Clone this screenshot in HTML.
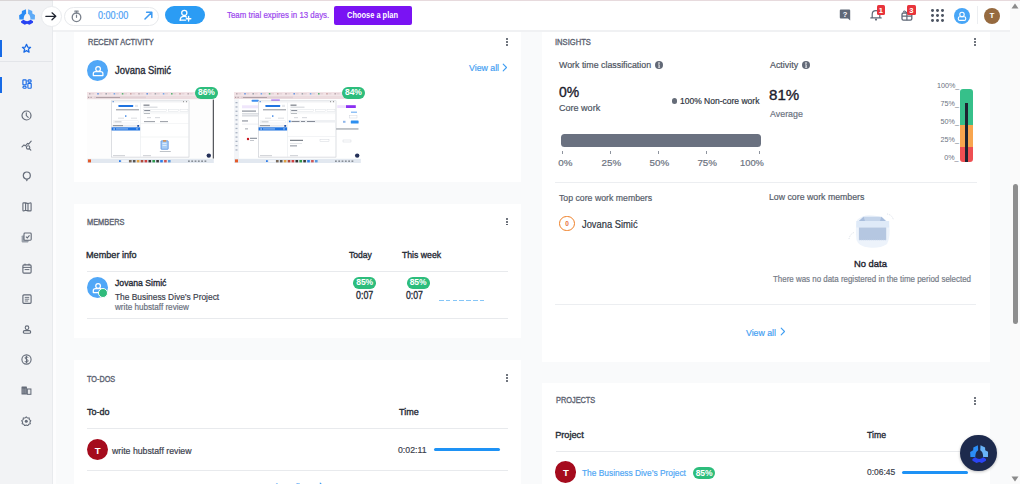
<!DOCTYPE html>
<html><head><meta charset="utf-8"><title>Dashboard</title>
<style>
html,body{margin:0;padding:0}
body{width:1020px;height:484px;position:relative;overflow:hidden;background:#f9fafb;font-family:"Liberation Sans",sans-serif}
.b{position:absolute}
.t{position:absolute;white-space:nowrap;transform-origin:0 0}
.badge{background:#2dbd7c;color:#fff;font-weight:bold;font-size:8.5px;text-align:center;letter-spacing:-0.1px}
</style></head><body>
<div class="b" style="left:53px;top:0px;width:957.00px;height:32.00px;background:#fff"></div><div class="b" style="left:53px;top:30px;width:957.00px;height:2.00px;background:#f0f1f3"></div><div class="b" style="left:0px;top:0px;width:53.00px;height:484.00px;background:#f2f3f5;border-right:1px solid #e8eaed;box-sizing:border-box"></div><div class="b" style="left:53px;top:32px;width:2.50px;height:452.00px;background:#fdfdfe"></div><div class="b" style="left:0px;top:0px;width:53.00px;height:1.00px;background:#d9d5d6"></div><div class="b" style="left:1010px;top:0px;width:10.00px;height:484.00px;background:#fafafa"></div><div class="b" style="left:1013px;top:184px;width:5.00px;height:140.00px;background:#8e8e8e;border-radius:3px"></div><svg class="b" style="left:1011px;top:3px" width="8" height="6" viewBox="0 0 8 6"><path d="M4 0.5 L7.5 5.5 L0.5 5.5 Z" fill="#8a8a8a"/></svg><div class="b" style="left:53px;top:0px;width:967.00px;height:1.00px;background:#e7dadd"></div><svg class="b" style="left:1011px;top:476px" width="8" height="6" viewBox="0 0 8 6"><path d="M0.5 0.5 L7.5 0.5 L4 5.5 Z" fill="#8a8a8a"/></svg><div class="b" style="left:74px;top:32px;width:447.00px;height:150.00px;background:#fff"></div><div class="b" style="left:74px;top:204px;width:447.00px;height:134.00px;background:#fff"></div><div class="b" style="left:74px;top:360px;width:447.00px;height:160.00px;background:#fff"></div><div class="b" style="left:542px;top:32px;width:448.00px;height:329.50px;background:#fff"></div><div class="b" style="left:542px;top:383px;width:448.00px;height:137.00px;background:#fff"></div><div class="b" style="left:0px;top:40px;width:2.20px;height:17.00px;background:#176ae6"></div><div class="b" style="left:0px;top:77px;width:2.20px;height:16.00px;background:#176ae6"></div><div class="b" style="left:0px;top:61px;width:52.00px;height:1.00px;background:#e3e5e9"></div><svg class="b" style="left:18.60px;top:9.10px" width="16.40" height="15.79" viewBox="132 125 270 260"><path d="M246 128 L250 202 Q210 220 208 298 L138 300 L134 226 L178 200 L180 160 Z" fill="#2a8cf5"/><path d="M284 128 L280 202 Q320 220 322 298 L392 300 L396 226 L352 200 L350 160 Z" fill="#5eabf7"/><path d="M166 326 L206 302 Q265 350 324 302 L364 326 L362 352 L304 384 L265 370 L226 384 L168 352 Z" fill="#2742f2"/></svg><svg class="b" style="left:21px;top:42.5px" width="11" height="11" viewBox="0 0 11 11"><path d="M5.5 1.3 L6.7 4.1 L9.6 4.3 L7.4 6.2 L8.1 9.2 L5.5 7.6 L2.9 9.2 L3.6 6.2 L1.4 4.3 L4.3 4.1 Z" fill="none" stroke="#1769e6" stroke-width="1.25" stroke-linejoin="round"/></svg><svg class="b" style="left:21.5px;top:79.3px" width="10" height="10" viewBox="0 0 10 10"><g fill="none" stroke="#1769e6" stroke-width="1.15"><rect x="0.9" y="0.9" width="3.3" height="5" rx="0.6"/><rect x="0.9" y="7.2" width="3.3" height="2" rx="1"/><rect x="5.9" y="0.9" width="3.3" height="2.2" rx="1"/><rect x="5.9" y="4.4" width="3.3" height="4.8" rx="0.6"/></g></svg><svg class="b" style="left:21px;top:110px" width="11" height="11" viewBox="0 0 11 11"><circle cx="5.5" cy="5.5" r="4.5" fill="none" stroke="#646b78" stroke-width="1.2"/><path d="M5.3 2.9 L5.3 5.6 L7.2 7.4" fill="none" stroke="#646b78" stroke-width="1.1" stroke-linecap="round"/></svg><svg class="b" style="left:20.5px;top:139.5px" width="11" height="11" viewBox="0 0 11 11"><path d="M1 6.8 L3 4.8 L4.3 5.9 L6.6 3.3 L7.6 4.2 L10.2 1.2" fill="none" stroke="#646b78" stroke-width="1.1" stroke-linejoin="round" stroke-linecap="round"/><circle cx="7.1" cy="7.4" r="1.7" fill="none" stroke="#646b78" stroke-width="1.1"/><path d="M8.4 8.7 L9.8 10.1" stroke="#646b78" stroke-width="1.2" stroke-linecap="round"/></svg><svg class="b" style="left:21.5px;top:171px" width="10" height="11" viewBox="0 0 10 11"><circle cx="4.8" cy="4.5" r="3.5" fill="none" stroke="#646b78" stroke-width="1.2"/><path d="M3.4 8.2 L4.8 10.4 L6.2 8.2 Z" fill="#646b78"/></svg><svg class="b" style="left:21.5px;top:202px" width="10" height="10" viewBox="0 0 10 10"><path d="M0.9 1.6 Q0.9 0.9 1.6 0.9 L3.6 0.9 L6 1.6 L8.2 0.9 Q9.1 0.9 9.1 1.6 L9.1 8.2 Q9.1 8.9 8.4 8.9 L6 8.9 L3.6 8.2 L1.6 8.9 Q0.9 8.9 0.9 8.2 Z M3.6 0.9 L3.6 8.2 M6 1.6 L6 8.9" fill="none" stroke="#646b78" stroke-width="1.1" stroke-linejoin="round"/></svg><svg class="b" style="left:21px;top:232px" width="11" height="11" viewBox="0 0 11 11"><rect x="0.6" y="3.4" width="7" height="7" rx="0.8" fill="#9aa0aa"/><rect x="3" y="1" width="7.2" height="7.2" rx="0.9" fill="#f2f3f5" stroke="#646b78" stroke-width="1.1"/><path d="M4.9 4.6 L6.3 5.9 L8.5 3.4" fill="none" stroke="#646b78" stroke-width="1.05"/></svg><svg class="b" style="left:21.5px;top:262.5px" width="10" height="11" viewBox="0 0 10 11"><rect x="0.9" y="1.8" width="8.2" height="8.3" rx="1.1" fill="none" stroke="#646b78" stroke-width="1.15"/><path d="M0.9 4.4 L9.1 4.4 M2.6 6.6 L7.4 6.6 M3 0.6 L3 2.4 M7 0.6 L7 2.4" stroke="#646b78" stroke-width="1"/></svg><svg class="b" style="left:21.5px;top:293.5px" width="10" height="10" viewBox="0 0 10 10"><rect x="0.9" y="0.9" width="8.2" height="8.4" rx="1" fill="none" stroke="#646b78" stroke-width="1.15"/><path d="M2.8 3.4 L7.2 3.4 M2.8 5.2 L7.2 5.2 M2.8 7 L6.2 7" stroke="#646b78" stroke-width="0.9"/></svg><svg class="b" style="left:21.5px;top:324.5px" width="10" height="9" viewBox="0 0 10 9"><circle cx="5" cy="2.7" r="1.8" fill="none" stroke="#646b78" stroke-width="1.1"/><rect x="1.3" y="5.6" width="7.4" height="2.7" rx="1.35" fill="none" stroke="#646b78" stroke-width="1.1"/></svg><svg class="b" style="left:21px;top:354px" width="11" height="11" viewBox="0 0 11 11"><circle cx="5.5" cy="5.5" r="4.6" fill="none" stroke="#646b78" stroke-width="1.1"/><path d="M7 3.7 Q6.8 2.8 5.5 2.8 Q4.1 2.8 4.1 3.9 Q4.1 4.9 5.5 5.3 Q7.1 5.7 7.1 6.9 Q7.1 8.1 5.5 8.1 Q4.1 8.1 3.9 7.1 M5.5 1.9 L5.5 9.1" fill="none" stroke="#646b78" stroke-width="1"/></svg><svg class="b" style="left:21.3px;top:385.8px" width="10.5" height="9" viewBox="0 0 10.5 9"><rect x="0.5" y="0.5" width="5.4" height="8" rx="0.5" fill="#646b78"/><rect x="6.3" y="3" width="3.6" height="5.3" fill="none" stroke="#646b78" stroke-width="1.05"/><path d="M2 2.2 L2 7.6 M4.2 2.2 L4.2 7.6 M1 4 L5.4 4 M1 6 L5.4 6" stroke="#9aa0aa" stroke-width="0.6"/><path d="M8.1 4.2 L8.1 7.8" stroke="#d9dce0" stroke-width="0.9"/></svg><svg class="b" style="left:21.3px;top:415.5px" width="10.5" height="10.5" viewBox="0 0 10.5 10.5"><path d="M5.25 0.8 L6.4 2 L8.2 1.9 L8.3 3.6 L9.8 4.7 L8.9 6.1 L9.4 7.8 L7.7 8.2 L6.8 9.7 L5.25 9 L3.7 9.7 L2.8 8.2 L1.1 7.8 L1.6 6.1 L0.7 4.7 L2.2 3.6 L2.3 1.9 L4.1 2 Z" fill="none" stroke="#646b78" stroke-width="1.05" stroke-linejoin="round"/><circle cx="5.25" cy="5.3" r="1.5" fill="#646b78"/></svg><div class="b" style="left:40.80px;top:6.30px;width:20.80px;height:20.80px;border-radius:50%;background:#fff;border:1px solid #e9ebee;box-sizing:border-box"></div><svg class="b" style="left:45.2px;top:12.2px" width="12" height="9" viewBox="0 0 12 9"><path d="M0.8 4.3 L10.6 4.3 M7 0.8 L10.8 4.3 L7 7.8" fill="none" stroke="#1f2430" stroke-width="1.25" stroke-linecap="round" stroke-linejoin="round"/></svg><div class="b" style="left:63.5px;top:6.5px;width:95.30px;height:19.00px;background:#fff;border:1px solid #e8eaed;border-radius:10px;box-sizing:border-box"></div><svg class="b" style="left:70.5px;top:9.5px" width="11" height="13" viewBox="0 0 11 13"><circle cx="5.5" cy="7.3" r="4.3" fill="none" stroke="#7a818c" stroke-width="1.3"/><path d="M3.8 1.2 L7.2 1.2 M5.5 1.2 L5.5 3 M5.5 7.3 L5.5 5" stroke="#7a818c" stroke-width="1.2" stroke-linecap="round"/></svg><svg class="b" style="left:144px;top:11px" width="9" height="9" viewBox="0 0 9 9"><path d="M1 8 L7.8 1.2 M2.6 1.2 L7.8 1.2 L7.8 6.4" fill="none" stroke="#3d9af2" stroke-width="1.5" stroke-linecap="round" stroke-linejoin="round"/></svg><div class="b" style="left:165.2px;top:6.1px;width:40.10px;height:18.20px;background:#2b9cf4;border-radius:9.1px"></div><svg class="b" style="left:179px;top:9px" width="13" height="13" viewBox="0 0 13 13"><circle cx="5.3" cy="3.9" r="2.6" fill="none" stroke="#fff" stroke-width="1.3"/><path d="M1.2 11.2 Q1.2 7.4 5.3 7.4 Q6.8 7.4 7.6 8" fill="none" stroke="#fff" stroke-width="1.3" stroke-linecap="round"/><path d="M1.2 11.2 L6.6 11.2" stroke="#fff" stroke-width="1.3" stroke-linecap="round"/><path d="M9.6 7.5 L9.6 12 M7.4 9.7 L11.8 9.7" stroke="#fff" stroke-width="1.4" stroke-linecap="round"/></svg><div class="b" style="left:334.1px;top:5.9px;width:77.70px;height:19.60px;background:#7a13f3;border-radius:2px"></div><svg class="b" style="left:839px;top:9px" width="12" height="12" viewBox="0 0 12 12"><path d="M1.8 0.6 L10.2 0.6 Q11.2 0.6 11.2 1.6 L11.2 11.6 L9 9.6 L1.8 9.6 Q0.8 9.6 0.8 8.6 L0.8 1.6 Q0.8 0.6 1.8 0.6 Z" fill="#5f6877"/><text x="6" y="8" font-family="Liberation Sans" font-weight="bold" font-size="7.5" fill="#fff" text-anchor="middle">?</text></svg><svg class="b" style="left:870px;top:9px" width="12" height="12" viewBox="0 0 12 12"><path d="M2.2 8.6 L2.2 5.4 Q2.2 1.6 6 1.6 Q9.8 1.6 9.8 5.4 L9.8 8.6 M0.8 8.9 L11.2 8.9" fill="none" stroke="#5f6877" stroke-width="1.2" stroke-linecap="round"/><circle cx="6" cy="10.6" r="1.1" fill="#5f6877"/></svg><div class="b" style="left:876.9px;top:5.4px;width:8.20px;height:9.80px;background:#e8343b;border-radius:1.5px;color:#fff;font:bold 7.5px/9.8px 'Liberation Sans',sans-serif;text-align:center"></div><div class="t" style="left:876.9px;top:5.6px;width:8.2px;text-align:center;font-size:7.6px;line-height:9.8px;font-weight:bold;color:#fff">1</div><svg class="b" style="left:900.5px;top:9px" width="12" height="12" viewBox="0 0 12 12"><rect x="1" y="4" width="9.8" height="7.2" rx="1.4" fill="none" stroke="#5f6877" stroke-width="1.3"/><path d="M1 7.2 L10.8 7.2 M5.9 4 L5.9 11.2" stroke="#5f6877" stroke-width="1.2"/><path d="M5.9 4 Q3 0.5 2.6 3 M5.9 4 Q7.5 1 9 2" fill="none" stroke="#5f6877" stroke-width="1.1"/></svg><div class="b" style="left:907px;top:5.4px;width:8.80px;height:9.80px;background:#e8343b;border-radius:1.5px"></div><div class="t" style="left:907px;top:5.6px;width:8.8px;text-align:center;font-size:7.6px;line-height:9.8px;font-weight:bold;color:#fff">3</div><div class="b" style="left:930.95px;top:9.15px;width:2.90px;height:2.90px;border-radius:50%;background:#4d5563"></div><div class="b" style="left:936.05px;top:9.15px;width:2.90px;height:2.90px;border-radius:50%;background:#4d5563"></div><div class="b" style="left:941.15px;top:9.15px;width:2.90px;height:2.90px;border-radius:50%;background:#4d5563"></div><div class="b" style="left:930.95px;top:14.25px;width:2.90px;height:2.90px;border-radius:50%;background:#4d5563"></div><div class="b" style="left:936.05px;top:14.25px;width:2.90px;height:2.90px;border-radius:50%;background:#4d5563"></div><div class="b" style="left:941.15px;top:14.25px;width:2.90px;height:2.90px;border-radius:50%;background:#4d5563"></div><div class="b" style="left:930.95px;top:19.35px;width:2.90px;height:2.90px;border-radius:50%;background:#4d5563"></div><div class="b" style="left:936.05px;top:19.35px;width:2.90px;height:2.90px;border-radius:50%;background:#4d5563"></div><div class="b" style="left:941.15px;top:19.35px;width:2.90px;height:2.90px;border-radius:50%;background:#4d5563"></div><div class="b" style="left:953.80px;top:7.80px;width:16.40px;height:16.40px;border-radius:50%;background:#48a6f7"></div><svg class="b" style="left:957px;top:11px" width="10" height="10" viewBox="0 0 10 10"><circle cx="5" cy="3.4" r="2.2" fill="none" stroke="#fff" stroke-width="1.1"/><rect x="1.3" y="5.8" width="7.4" height="3.6" rx="1.4" fill="none" stroke="#fff" stroke-width="1.1"/></svg><div class="b" style="left:977px;top:6.4px;width:1.00px;height:17.60px;background:#eceef1"></div><div class="b" style="left:983.70px;top:7.70px;width:16.60px;height:16.60px;border-radius:50%;background:#966a3f"></div><div class="t" style="left:984px;top:10.8px;width:16px;text-align:center;font-size:8px;line-height:10px;font-weight:bold;color:#fff">T</div><div class="b" style="left:505.65px;top:38.25px;width:1.90px;height:1.90px;border-radius:50%;background:#444b57"></div><div class="b" style="left:505.65px;top:41.15px;width:1.90px;height:1.90px;border-radius:50%;background:#444b57"></div><div class="b" style="left:505.65px;top:44.05px;width:1.90px;height:1.90px;border-radius:50%;background:#444b57"></div><div class="b" style="left:87.20px;top:60.10px;width:21.00px;height:21.00px;border-radius:50%;background:#50a7f7"></div><svg class="b" style="left:91.7px;top:64.6px" width="12" height="12" viewBox="0 0 12 12"><circle cx="6.1" cy="3.9" r="2.35" fill="none" stroke="#fff" stroke-width="1.25"/><path d="M1.3 10.6 L1.3 8.6 Q1.3 6.6 3.6 6.6 L8.6 6.6 Q10.9 6.6 10.9 8.6 L10.9 10.6 Z" fill="none" stroke="#fff" stroke-width="1.25" stroke-linejoin="round"/></svg><svg class="b" style="left:502.2px;top:62.6px" width="6.5" height="9" viewBox="0 0 6.5 9"><path d="M1.2 1.2 L4.50 4.50 L1.2 7.80" fill="none" stroke="#3f9ef2" stroke-width="1.1" stroke-linecap="round" stroke-linejoin="round"/></svg><svg class="b" style="left:87px;top:91.5px" width="126.8" height="71" viewBox="0 0 126.8 71"><rect x="0" y="0" width="126.8" height="71" fill="#fdfdfd" /><rect x="0" y="0" width="126.8" height="3.6" fill="#f2e3e6" /><rect x="0" y="3.6" width="126.8" height="3.6" fill="#ecdcdf" /><rect x="2.0" y="1.1" width="1.6" height="1.4" fill="#b8a8ae" /><rect x="4.2" y="1.5" width="3" height="0.7" fill="#d5c4c8" /><rect x="10.2" y="1.1" width="1.6" height="1.4" fill="#5d8fe0" /><rect x="12.399999999999999" y="1.5" width="3" height="0.7" fill="#d5c4c8" /><rect x="18.4" y="1.1" width="1.6" height="1.4" fill="#9aa0a8" /><rect x="20.599999999999998" y="1.5" width="3" height="0.7" fill="#d5c4c8" /><rect x="26.599999999999998" y="1.1" width="1.6" height="1.4" fill="#6aa2e8" /><rect x="28.799999999999997" y="1.5" width="3" height="0.7" fill="#d5c4c8" /><rect x="34.8" y="1.1" width="1.6" height="1.4" fill="#4caf6a" /><rect x="37.0" y="1.5" width="3" height="0.7" fill="#d5c4c8" /><rect x="43.0" y="1.1" width="1.6" height="1.4" fill="#c9a0a0" /><rect x="45.2" y="1.5" width="3" height="0.7" fill="#d5c4c8" /><rect x="51.199999999999996" y="1.1" width="1.6" height="1.4" fill="#b8a8ae" /><rect x="53.4" y="1.5" width="3" height="0.7" fill="#d5c4c8" /><rect x="59.39999999999999" y="1.1" width="1.6" height="1.4" fill="#5d8fe0" /><rect x="61.599999999999994" y="1.5" width="3" height="0.7" fill="#d5c4c8" /><rect x="67.6" y="1.1" width="1.6" height="1.4" fill="#9aa0a8" /><rect x="69.8" y="1.5" width="3" height="0.7" fill="#d5c4c8" /><rect x="75.8" y="1.1" width="1.6" height="1.4" fill="#6aa2e8" /><rect x="78.0" y="1.5" width="3" height="0.7" fill="#d5c4c8" /><rect x="84.0" y="1.1" width="1.6" height="1.4" fill="#4caf6a" /><rect x="86.2" y="1.5" width="3" height="0.7" fill="#d5c4c8" /><rect x="92.19999999999999" y="1.1" width="1.6" height="1.4" fill="#c9a0a0" /><rect x="94.39999999999999" y="1.5" width="3" height="0.7" fill="#d5c4c8" /><rect x="100.39999999999999" y="1.1" width="1.6" height="1.4" fill="#b8a8ae" /><rect x="102.6" y="1.5" width="3" height="0.7" fill="#d5c4c8" /><rect x="108.6" y="1.1" width="1.6" height="1.4" fill="#5d8fe0" /><rect x="110.8" y="1.5" width="3" height="0.7" fill="#d5c4c8" /><rect x="116.79999999999998" y="1.1" width="1.6" height="1.4" fill="#9aa0a8" /><rect x="118.99999999999999" y="1.5" width="3" height="0.7" fill="#d5c4c8" /><rect x="7" y="4.6" width="52" height="1.6" fill="#e2d0d4" /><rect x="9" y="5.1" width="24" height="0.7" fill="#9d8d93" /><rect x="1" y="4.8" width="1.2" height="1.2" fill="#b09fa5" /><rect x="3.5" y="4.8" width="1.2" height="1.2" fill="#b09fa5" /><rect x="24.6" y="8.9" width="77.4" height="56.2" fill="#ffffff" stroke="#b9bec6" stroke-width="0.5"/><rect x="24.6" y="8.9" width="77.4" height="1.6" fill="#f1f2f4" /><rect x="25.5" y="9.2" width="1.5" height="1" fill="#5b8fd6" /><rect x="96" y="9.2" width="1" height="1" fill="#888" /><rect x="99" y="9.2" width="1" height="1" fill="#888" /><rect x="53.1" y="10.5" width="0.5" height="54.6" fill="#e3e6ea" /><rect x="31.4" y="13" width="14.8" height="1.9" fill="#1f73e0" rx="0.4"/><rect x="48" y="12.8" width="3" height="2.2" fill="#e6e8ec" /><rect x="29" y="17.3" width="23" height="1" fill="#8a9099" /><rect x="38" y="23.3" width="1.6" height="1.6" fill="#1f73e0" rx="0.8"/><rect x="31" y="25.8" width="6" height="0.6" fill="#c2c6cc" /><rect x="44" y="25.8" width="6" height="0.6" fill="#c2c6cc" /><rect x="26.5" y="28.8" width="25" height="2.2" fill="#fff" stroke="#dfe2e6" stroke-width="0.4"/><rect x="27.5" y="29.6" width="7" height="0.6" fill="#9aa0a8" /><rect x="24.6" y="32.8" width="28.5" height="1.9" fill="#e8eaee" /><rect x="26" y="33.4" width="10" height="0.7" fill="#5f6670" /><rect x="50.3" y="33" width="1.8" height="1.8" fill="#1f4fa6" /><rect x="24.6" y="35.3" width="28.5" height="3.2" fill="#1f73e0" /><rect x="26.5" y="36.4" width="1.2" height="1.2" fill="#fff" /><rect x="29" y="36.6" width="12" height="0.7" fill="#cfe2fb" /><rect x="49" y="36.6" width="2" height="0.7" fill="#cfe2fb" /><rect x="56.5" y="12.6" width="6" height="1.1" fill="#6b717b" /><rect x="56.5" y="14.8" width="14" height="0.6" fill="#b0b5bc" /><rect x="56.5" y="17.4" width="23" height="2" fill="#fff" stroke="#d5d9de" stroke-width="0.4"/><rect x="57.2" y="18" width="6" height="0.8" fill="#6b7280" /><rect x="81.5" y="17.4" width="10" height="2" fill="#fff" stroke="#d5d9de" stroke-width="0.4"/><rect x="93" y="17.4" width="8" height="2" fill="#fff" stroke="#d5d9de" stroke-width="0.4"/><rect x="56.5" y="20.5" width="44" height="1.4" fill="#fff" stroke="#e1e4e8" stroke-width="0.3"/><rect x="57" y="21" width="6" height="0.6" fill="#8e949c" /><rect x="60" y="25.5" width="4" height="0.6" fill="#b5bac1" /><rect x="68" y="25.5" width="5" height="0.6" fill="#b5bac1" /><rect x="57" y="29.3" width="11" height="0.8" fill="#7b818a" /><rect x="73" y="29.3" width="8" height="0.8" fill="#7b818a" /><rect x="53.6" y="31.6" width="48" height="0.4" fill="#e5e7ea" /><rect x="53.6" y="44.8" width="48" height="0.4" fill="#e0e3e7" /><rect x="74" y="48.8" width="7.2" height="8.5" fill="#a9cdf5" stroke="#2f73d6" stroke-width="0.6" rx="0.6"/><rect x="76" y="48.2" width="3.2" height="1.4" fill="#e08a3a" /><rect x="75.5" y="51" width="4" height="0.6" fill="#ffffff" /><rect x="75.5" y="53" width="4" height="0.6" fill="#ffffff" /><rect x="72.8" y="59" width="11" height="0.7" fill="#a3a9b1" /><rect x="125.8" y="7.6" width="1" height="59" fill="#2d3036" /><rect x="26" y="63.5" width="12" height="0.6" fill="#a9aeb5" /><rect x="56" y="63.5" width="8" height="0.6" fill="#a9aeb5" /><rect x="0" y="66.8" width="126.8" height="4.2" fill="#e2e8f0" /><rect x="1" y="67.4" width="3" height="3" fill="#e45a2a" /><rect x="32" y="68.2" width="1.8" height="1.8" fill="#2f7de8" /><rect x="35" y="68.2" width="6" height="1.8" fill="#f4f6f9" /><rect x="42.0" y="68" width="2.6" height="2.4" fill="#7a6a5a" /><rect x="45.9" y="68" width="2.6" height="2.4" fill="#555" /><rect x="49.8" y="68" width="2.6" height="2.4" fill="#e0a040" /><rect x="53.7" y="68" width="2.6" height="2.4" fill="#b04a3a" /><rect x="57.6" y="68" width="2.6" height="2.4" fill="#d04040" /><rect x="61.5" y="68" width="2.6" height="2.4" fill="#333" /><rect x="65.4" y="68" width="2.6" height="2.4" fill="#2c9a4a" /><rect x="69.3" y="68" width="2.6" height="2.4" fill="#3a3a3a" /><rect x="73.2" y="68" width="2.6" height="2.4" fill="#2f7de8" /><rect x="77.1" y="68" width="2.6" height="2.4" fill="#cc5555" /><rect x="81.0" y="68" width="2.6" height="2.4" fill="#5a9ae0" /><rect x="101.0" y="68.4" width="1.8" height="1.6" fill="#8a9099" /><rect x="104.3" y="68.4" width="1.8" height="1.6" fill="#8a9099" /><rect x="107.6" y="68.4" width="1.8" height="1.6" fill="#8a9099" /><rect x="110.9" y="68.4" width="1.8" height="1.6" fill="#8a9099" /><rect x="114.2" y="68.4" width="1.8" height="1.6" fill="#8a9099" /><rect x="117.5" y="68.4" width="1.8" height="1.6" fill="#8a9099" /><circle cx="121.8" cy="63.6" r="2.2" fill="#243058"/></svg><svg class="b" style="left:234.3px;top:91.5px" width="126.8" height="71" viewBox="0 0 126.8 71"><rect x="0" y="0" width="126.8" height="71" fill="#fdfdfd" /><rect x="0" y="0" width="126.8" height="3.6" fill="#f2e3e6" /><rect x="0" y="3.6" width="126.8" height="3.6" fill="#ecdcdf" /><rect x="2.0" y="1.1" width="1.6" height="1.4" fill="#b8a8ae" /><rect x="4.2" y="1.5" width="3" height="0.7" fill="#d5c4c8" /><rect x="10.2" y="1.1" width="1.6" height="1.4" fill="#5d8fe0" /><rect x="12.399999999999999" y="1.5" width="3" height="0.7" fill="#d5c4c8" /><rect x="18.4" y="1.1" width="1.6" height="1.4" fill="#9aa0a8" /><rect x="20.599999999999998" y="1.5" width="3" height="0.7" fill="#d5c4c8" /><rect x="26.599999999999998" y="1.1" width="1.6" height="1.4" fill="#6aa2e8" /><rect x="28.799999999999997" y="1.5" width="3" height="0.7" fill="#d5c4c8" /><rect x="34.8" y="1.1" width="1.6" height="1.4" fill="#4caf6a" /><rect x="37.0" y="1.5" width="3" height="0.7" fill="#d5c4c8" /><rect x="43.0" y="1.1" width="1.6" height="1.4" fill="#c9a0a0" /><rect x="45.2" y="1.5" width="3" height="0.7" fill="#d5c4c8" /><rect x="51.199999999999996" y="1.1" width="1.6" height="1.4" fill="#b8a8ae" /><rect x="53.4" y="1.5" width="3" height="0.7" fill="#d5c4c8" /><rect x="59.39999999999999" y="1.1" width="1.6" height="1.4" fill="#5d8fe0" /><rect x="61.599999999999994" y="1.5" width="3" height="0.7" fill="#d5c4c8" /><rect x="67.6" y="1.1" width="1.6" height="1.4" fill="#9aa0a8" /><rect x="69.8" y="1.5" width="3" height="0.7" fill="#d5c4c8" /><rect x="75.8" y="1.1" width="1.6" height="1.4" fill="#6aa2e8" /><rect x="78.0" y="1.5" width="3" height="0.7" fill="#d5c4c8" /><rect x="84.0" y="1.1" width="1.6" height="1.4" fill="#4caf6a" /><rect x="86.2" y="1.5" width="3" height="0.7" fill="#d5c4c8" /><rect x="92.19999999999999" y="1.1" width="1.6" height="1.4" fill="#c9a0a0" /><rect x="94.39999999999999" y="1.5" width="3" height="0.7" fill="#d5c4c8" /><rect x="100.39999999999999" y="1.1" width="1.6" height="1.4" fill="#b8a8ae" /><rect x="102.6" y="1.5" width="3" height="0.7" fill="#d5c4c8" /><rect x="108.6" y="1.1" width="1.6" height="1.4" fill="#5d8fe0" /><rect x="110.8" y="1.5" width="3" height="0.7" fill="#d5c4c8" /><rect x="116.79999999999998" y="1.1" width="1.6" height="1.4" fill="#9aa0a8" /><rect x="118.99999999999999" y="1.5" width="3" height="0.7" fill="#d5c4c8" /><rect x="7" y="4.6" width="52" height="1.6" fill="#e2d0d4" /><rect x="9" y="5.1" width="24" height="0.7" fill="#9d8d93" /><rect x="1" y="4.8" width="1.2" height="1.2" fill="#b09fa5" /><rect x="3.5" y="4.8" width="1.2" height="1.2" fill="#b09fa5" /><rect x="0" y="7.2" width="126.8" height="60" fill="#ffffff" /><rect x="0" y="7.2" width="5" height="60" fill="#f3f5f8" /><rect x="1.5" y="10.0" width="2" height="1.3" fill="#aab3c2" /><rect x="1.5" y="14.3" width="2" height="1.3" fill="#aab3c2" /><rect x="1.5" y="18.6" width="2" height="1.3" fill="#aab3c2" /><rect x="1.5" y="22.9" width="2" height="1.3" fill="#aab3c2" /><rect x="1.5" y="27.2" width="2" height="1.3" fill="#aab3c2" /><rect x="1.5" y="31.5" width="2" height="1.3" fill="#aab3c2" /><rect x="1.5" y="35.8" width="2" height="1.3" fill="#aab3c2" /><rect x="1.5" y="40.099999999999994" width="2" height="1.3" fill="#aab3c2" /><rect x="1.5" y="44.4" width="2" height="1.3" fill="#aab3c2" /><rect x="1.5" y="48.699999999999996" width="2" height="1.3" fill="#aab3c2" /><rect x="1.5" y="53.0" width="2" height="1.3" fill="#aab3c2" /><rect x="1.5" y="57.3" width="2" height="1.3" fill="#aab3c2" /><rect x="17.5" y="7.8" width="7.5" height="1.9" fill="#3d8ef0" rx="0.9"/><rect x="37.2" y="7.5" width="8.6" height="2.1" fill="#9b5cf2" /><rect x="8" y="13.3" width="16" height="3" fill="#efe6fb" /><rect x="8" y="18.5" width="14" height="1.2" fill="#8b919b" /><rect x="8" y="21.5" width="18" height="0.8" fill="#b8bdc5" /><rect x="8" y="23.5" width="16" height="0.8" fill="#b8bdc5" /><rect x="8" y="28.5" width="6" height="0.9" fill="#6b7280" /><rect x="8" y="31.8" width="16" height="0.5" fill="#d9dde3" /><rect x="11" y="36.5" width="3" height="0.8" fill="#8b919b" /><rect x="12.8" y="45.8" width="2.4" height="2.4" fill="#c8141f" rx="1.2"/><rect x="16" y="45.8" width="7" height="0.9" fill="#6b7280" /><rect x="16" y="48" width="4" height="0.7" fill="#a9aeb6" /><rect x="103.3" y="13.2" width="9" height="2.8" fill="#eee3fc" /><rect x="112" y="13.2" width="9.8" height="2.8" fill="#8b2ff2" /><rect x="117" y="19.7" width="6" height="0.9" fill="#4a9af0" /><rect x="115.5" y="23.6" width="7.5" height="2.4" fill="#fff" stroke="#c9ced6" stroke-width="0.4"/><rect x="116.8" y="28.5" width="7.8" height="3" fill="#2d8ff0" rx="0.6"/><rect x="109" y="28.8" width="2.5" height="2" fill="#8fb6ea" /><rect x="101" y="36.3" width="23.5" height="1.3" fill="#a3a8ae" /><rect x="109" y="48" width="8" height="2" fill="#fff" stroke="#c9ced6" stroke-width="0.4"/><rect x="24.6" y="8.9" width="77.4" height="56.2" fill="#ffffff" stroke="#b9bec6" stroke-width="0.5"/><rect x="24.6" y="8.9" width="77.4" height="1.6" fill="#f1f2f4" /><rect x="25.5" y="9.2" width="1.5" height="1" fill="#5b8fd6" /><rect x="96" y="9.2" width="1" height="1" fill="#888" /><rect x="99" y="9.2" width="1" height="1" fill="#888" /><rect x="53.1" y="10.5" width="0.5" height="54.6" fill="#e3e6ea" /><rect x="31.4" y="13" width="14.8" height="1.9" fill="#1f73e0" rx="0.4"/><rect x="48" y="12.8" width="3" height="2.2" fill="#e6e8ec" /><rect x="29" y="17.3" width="23" height="1" fill="#8a9099" /><rect x="38" y="23.3" width="1.6" height="1.6" fill="#1f73e0" rx="0.8"/><rect x="31" y="25.8" width="6" height="0.6" fill="#c2c6cc" /><rect x="44" y="25.8" width="6" height="0.6" fill="#c2c6cc" /><rect x="26.5" y="28.8" width="25" height="2.2" fill="#fff" stroke="#dfe2e6" stroke-width="0.4"/><rect x="27.5" y="29.6" width="7" height="0.6" fill="#9aa0a8" /><rect x="24.6" y="32.8" width="28.5" height="1.9" fill="#e8eaee" /><rect x="26" y="33.4" width="10" height="0.7" fill="#5f6670" /><rect x="50.3" y="33" width="1.8" height="1.8" fill="#1f4fa6" /><rect x="24.6" y="35.3" width="28.5" height="3.2" fill="#1f73e0" /><rect x="26.5" y="36.4" width="1.2" height="1.2" fill="#fff" /><rect x="29" y="36.6" width="12" height="0.7" fill="#cfe2fb" /><rect x="49" y="36.6" width="2" height="0.7" fill="#cfe2fb" /><rect x="56.5" y="12.6" width="6" height="1.1" fill="#6b717b" /><rect x="56.5" y="14.8" width="14" height="0.6" fill="#b0b5bc" /><rect x="56.5" y="17.4" width="23" height="2" fill="#fff" stroke="#d5d9de" stroke-width="0.4"/><rect x="57.2" y="18" width="6" height="0.8" fill="#6b7280" /><rect x="81.5" y="17.4" width="10" height="2" fill="#fff" stroke="#d5d9de" stroke-width="0.4"/><rect x="93" y="17.4" width="8" height="2" fill="#fff" stroke="#d5d9de" stroke-width="0.4"/><rect x="56.5" y="20.5" width="44" height="1.4" fill="#fff" stroke="#e1e4e8" stroke-width="0.3"/><rect x="57" y="21" width="6" height="0.6" fill="#8e949c" /><rect x="60" y="25.5" width="4" height="0.6" fill="#b5bac1" /><rect x="68" y="25.5" width="5" height="0.6" fill="#b5bac1" /><rect x="53.6" y="28" width="48" height="2.6" fill="#eef0f3" /><rect x="55" y="28.6" width="1.6" height="1.6" fill="#1f73e0" /><rect x="57.5" y="29" width="8" height="0.8" fill="#6b7280" /><rect x="67" y="29" width="4" height="0.8" fill="#6b7280" /><rect x="73" y="29" width="8" height="0.8" fill="#6b7280" /><rect x="53.6" y="44.5" width="48" height="0.4" fill="#e0e3e7" /><rect x="56" y="47.8" width="13" height="1" fill="#5f6670" /><rect x="86" y="47.5" width="9" height="2" fill="#fff" stroke="#c9ced6" stroke-width="0.4"/><rect x="56" y="51" width="12" height="0.5" fill="#c8ccd2" /><rect x="56" y="53.5" width="7" height="0.8" fill="#6b7280" /><rect x="26" y="63.5" width="12" height="0.6" fill="#a9aeb5" /><rect x="56" y="63.5" width="8" height="0.6" fill="#a9aeb5" /><rect x="0" y="66.8" width="126.8" height="4.2" fill="#e2e8f0" /><rect x="1" y="67.4" width="3" height="3" fill="#e45a2a" /><rect x="32" y="68.2" width="1.8" height="1.8" fill="#2f7de8" /><rect x="35" y="68.2" width="6" height="1.8" fill="#f4f6f9" /><rect x="42.0" y="68" width="2.6" height="2.4" fill="#7a6a5a" /><rect x="45.9" y="68" width="2.6" height="2.4" fill="#555" /><rect x="49.8" y="68" width="2.6" height="2.4" fill="#e0a040" /><rect x="53.7" y="68" width="2.6" height="2.4" fill="#b04a3a" /><rect x="57.6" y="68" width="2.6" height="2.4" fill="#d04040" /><rect x="61.5" y="68" width="2.6" height="2.4" fill="#333" /><rect x="65.4" y="68" width="2.6" height="2.4" fill="#2c9a4a" /><rect x="69.3" y="68" width="2.6" height="2.4" fill="#3a3a3a" /><rect x="73.2" y="68" width="2.6" height="2.4" fill="#2f7de8" /><rect x="77.1" y="68" width="2.6" height="2.4" fill="#cc5555" /><rect x="81.0" y="68" width="2.6" height="2.4" fill="#5a9ae0" /><rect x="101.0" y="68.4" width="1.8" height="1.6" fill="#8a9099" /><rect x="104.3" y="68.4" width="1.8" height="1.6" fill="#8a9099" /><rect x="107.6" y="68.4" width="1.8" height="1.6" fill="#8a9099" /><rect x="110.9" y="68.4" width="1.8" height="1.6" fill="#8a9099" /><rect x="114.2" y="68.4" width="1.8" height="1.6" fill="#8a9099" /><rect x="117.5" y="68.4" width="1.8" height="1.6" fill="#8a9099" /><circle cx="123.2" cy="63.6" r="2.2" fill="#243058"/></svg><div class="b badge" style="left:194.9px;top:87.4px;width:23.00px;height:11.80px;border-radius:5.90px;line-height:11.80px;">86%</div><div class="b badge" style="left:342px;top:87.4px;width:22.80px;height:11.80px;border-radius:5.90px;line-height:11.80px;">84%</div><div class="b" style="left:974.35px;top:38.25px;width:1.90px;height:1.90px;border-radius:50%;background:#444b57"></div><div class="b" style="left:974.35px;top:41.15px;width:1.90px;height:1.90px;border-radius:50%;background:#444b57"></div><div class="b" style="left:974.35px;top:44.05px;width:1.90px;height:1.90px;border-radius:50%;background:#444b57"></div><div class="b" style="left:654.80px;top:60.50px;width:8.40px;height:8.40px;border-radius:50%;background:#626977"></div><svg class="b" style="left:655px;top:60.7px" width="8" height="8" viewBox="0 0 8 8"><circle cx="4" cy="2.1" r="0.8" fill="#fff"/><path d="M3.1 3.5 L4.6 3.5 L4.6 6.2 L5.1 6.2 L5.1 6.8 L3.1 6.8 L3.1 6.2 L3.6 6.2 L3.6 4.1 L3.1 4.1 Z" fill="#fff"/></svg><div class="b" style="left:801.80px;top:60.90px;width:8.40px;height:8.40px;border-radius:50%;background:#626977"></div><svg class="b" style="left:802px;top:61.099999999999994px" width="8" height="8" viewBox="0 0 8 8"><circle cx="4" cy="2.1" r="0.8" fill="#fff"/><path d="M3.1 3.5 L4.6 3.5 L4.6 6.2 L5.1 6.2 L5.1 6.8 L3.1 6.8 L3.1 6.2 L3.6 6.2 L3.6 4.1 L3.1 4.1 Z" fill="#fff"/></svg><div class="b" style="left:672.00px;top:98.40px;width:5.20px;height:5.20px;border-radius:50%;background:#656c78"></div><div class="b" style="left:561px;top:134px;width:200.20px;height:13.20px;background:#6a7180;border-radius:3.5px"></div><div class="b" style="left:561.9px;top:150.7px;width:1.00px;height:3.50px;background:#8e949e"></div><div class="b" style="left:610.0px;top:150.7px;width:1.00px;height:3.50px;background:#8e949e"></div><div class="b" style="left:658.1px;top:150.7px;width:1.00px;height:3.50px;background:#8e949e"></div><div class="b" style="left:706.1px;top:150.7px;width:1.00px;height:3.50px;background:#8e949e"></div><div class="b" style="left:758.8px;top:150.7px;width:1.00px;height:3.50px;background:#8e949e"></div><div class="b" style="left:959.8px;top:88.9px;width:13.40px;height:72.70px;border-radius:3px;overflow:hidden;background:linear-gradient(#36c08a 0,#36c08a 36.3px,#f8a54e 36.3px,#f8a54e 57.9px,#ee4f52 57.9px)"></div><div class="b" style="left:965.3px;top:102.5px;width:2.40px;height:59.10px;background:#1d2331"></div><div class="t" style="right:61.20px;top:80.90px;font-size:7.8px;line-height:10px;color:#6b7280;transform:scaleX(0.92);transform-origin:100% 0">100%_</div><div class="t" style="right:61.20px;top:99.10px;font-size:7.8px;line-height:10px;color:#6b7280;transform:scaleX(0.92);transform-origin:100% 0">75%_</div><div class="t" style="right:61.20px;top:116.80px;font-size:7.8px;line-height:10px;color:#6b7280;transform:scaleX(0.92);transform-origin:100% 0">50%_</div><div class="t" style="right:61.20px;top:135.00px;font-size:7.8px;line-height:10px;color:#6b7280;transform:scaleX(0.92);transform-origin:100% 0">25%_</div><div class="t" style="right:61.20px;top:152.80px;font-size:7.8px;line-height:10px;color:#6b7280;transform:scaleX(0.92);transform-origin:100% 0">0%_</div><div class="b" style="left:555.3px;top:181.5px;width:421.70px;height:1.00px;background:#eceef1"></div><div class="b" style="left:559.30px;top:215.90px;width:15.40px;height:15.40px;border-radius:50%;border:1.7px solid #ef7f26;box-sizing:border-box;background:#fff"></div><div class="t" style="left:563px;top:219.5px;width:8px;text-align:center;font-size:6.5px;line-height:8px;font-weight:bold;color:#e8703a">0</div><svg class="b" style="left:845px;top:208px" width="55" height="42" viewBox="0 0 55 42"><path d="M12 12 Q18 6 28 7.5 Q40 8 44 16 Q46 28 42 36 Q34 41 24 39.5 Q14 39 11.5 32 Q10 20 12 12 Z" fill="#edf3fb"/><path d="M18.6 8.7 L36.4 8.7 L40.8 13 L13.9 13 Z" fill="#c4d4ea"/><path d="M13.9 13 L18.6 8.7 L20 13 Z M40.8 13 L36.4 8.7 L35 13 Z" fill="#a9bedd"/><rect x="11.3" y="13" width="32.9" height="6.5" fill="#dfeaf8"/><rect x="13.9" y="19.5" width="27.3" height="12.6" fill="#b5c7e1"/><path d="M14 32.3 L41 32.3" stroke="#dbe5f3" stroke-width="0.7" stroke-dasharray="1 1"/><path d="M4 31 Q5 26 9 24.5" fill="none" stroke="#d9dee5" stroke-width="0.9" stroke-dasharray="1 0.9"/><path d="M42 6 Q47 6.5 48.5 12" fill="none" stroke="#d9dee5" stroke-width="0.9" stroke-dasharray="1 0.9"/></svg><div class="b" style="left:555.3px;top:304.3px;width:421.20px;height:1.00px;background:#eceef1"></div><svg class="b" style="left:780px;top:327px" width="6.5" height="9" viewBox="0 0 6.5 9"><path d="M1.2 1.2 L4.50 4.50 L1.2 7.80" fill="none" stroke="#3f9ef2" stroke-width="1.1" stroke-linecap="round" stroke-linejoin="round"/></svg><div class="b" style="left:505.65px;top:217.75px;width:1.90px;height:1.90px;border-radius:50%;background:#444b57"></div><div class="b" style="left:505.65px;top:220.65px;width:1.90px;height:1.90px;border-radius:50%;background:#444b57"></div><div class="b" style="left:505.65px;top:223.55px;width:1.90px;height:1.90px;border-radius:50%;background:#444b57"></div><div class="b" style="left:87px;top:271.2px;width:421.00px;height:1.00px;background:#e8eaed"></div><div class="b" style="left:87px;top:317.7px;width:421.00px;height:1.00px;background:#e8eaed"></div><div class="b" style="left:87.10px;top:277.10px;width:21.00px;height:21.00px;border-radius:50%;background:#50a7f7"></div><svg class="b" style="left:91.6px;top:281.6px" width="12" height="12" viewBox="0 0 12 12"><circle cx="6.1" cy="3.9" r="2.35" fill="none" stroke="#fff" stroke-width="1.25"/><path d="M1.3 10.6 L1.3 8.6 Q1.3 6.6 3.6 6.6 L8.6 6.6 Q10.9 6.6 10.9 8.6 L10.9 10.6 Z" fill="none" stroke="#fff" stroke-width="1.25" stroke-linejoin="round"/></svg><div class="b" style="left:98.30px;top:287.70px;width:10.20px;height:10.20px;border-radius:50%;background:#2fbb7c;border:1px solid #fff;box-sizing:border-box"></div><div class="b badge" style="left:353.3px;top:277px;width:22.80px;height:11.60px;border-radius:5.80px;line-height:11.60px;">85%</div><div class="b badge" style="left:406.5px;top:277px;width:23.10px;height:11.60px;border-radius:5.80px;line-height:11.60px;">85%</div><div class="b" style="left:439px;top:300.2px;width:45.00px;height:1.30px;background:repeating-linear-gradient(90deg,#86c6f7 0,#86c6f7 4.7px,transparent 4.7px,transparent 6.8px)"></div><div class="b" style="left:505.75px;top:374.25px;width:1.90px;height:1.90px;border-radius:50%;background:#444b57"></div><div class="b" style="left:505.75px;top:377.15px;width:1.90px;height:1.90px;border-radius:50%;background:#444b57"></div><div class="b" style="left:505.75px;top:380.05px;width:1.90px;height:1.90px;border-radius:50%;background:#444b57"></div><div class="b" style="left:87px;top:428px;width:421.00px;height:1.00px;background:#e8eaed"></div><div class="b" style="left:87px;top:469.8px;width:421.00px;height:1.00px;background:#e8eaed"></div><div class="b" style="left:87.00px;top:438.60px;width:21.20px;height:21.20px;border-radius:50%;background:#a50b1d"></div><div class="t" style="left:87px;top:444.6px;width:21.2px;text-align:center;font-size:9.6px;line-height:12px;font-weight:bold;color:#fff">T</div><div class="b" style="left:434px;top:447.8px;width:66.20px;height:3.00px;background:#1e92f5;border-radius:1.5px"></div><svg class="b" style="left:319px;top:482px" width="6.5" height="9" viewBox="0 0 6.5 9"><path d="M1.2 1.2 L4.50 4.50 L1.2 7.80" fill="none" stroke="#3f9ef2" stroke-width="1.1" stroke-linecap="round" stroke-linejoin="round"/></svg><div class="b" style="left:974.35px;top:397.25px;width:1.90px;height:1.90px;border-radius:50%;background:#444b57"></div><div class="b" style="left:974.35px;top:400.15px;width:1.90px;height:1.90px;border-radius:50%;background:#444b57"></div><div class="b" style="left:974.35px;top:403.05px;width:1.90px;height:1.90px;border-radius:50%;background:#444b57"></div><div class="b" style="left:555.8px;top:450.6px;width:421.20px;height:1.00px;background:#e8eaed"></div><div class="b" style="left:555.30px;top:461.40px;width:21.20px;height:21.20px;border-radius:50%;background:#a50b1d"></div><div class="t" style="left:555.3px;top:467.4px;width:21.2px;text-align:center;font-size:9.6px;line-height:12px;font-weight:bold;color:#fff">T</div><div class="b badge" style="left:692.6px;top:467px;width:22.90px;height:12.00px;border-radius:6.00px;line-height:12.00px;">85%</div><div class="b" style="left:902.3px;top:470.5px;width:66.10px;height:3.00px;background:#1e92f5;border-radius:1.5px"></div><div class="b" style="left:960.10px;top:434.60px;width:36.80px;height:36.80px;border-radius:50%;background:#1d2a4d;box-shadow:0 1px 3px rgba(0,0,0,0.25)"></div><svg class="b" style="left:969.50px;top:445.00px" width="18.70" height="18.01" viewBox="132 125 270 260"><path d="M246 128 L250 202 Q210 220 208 298 L138 300 L134 226 L178 200 L180 160 Z" fill="#2b8df6"/><path d="M284 128 L280 202 Q320 220 322 298 L392 300 L396 226 L352 200 L350 160 Z" fill="#68b3f7"/><path d="M166 326 L206 302 Q265 350 324 302 L364 326 L362 352 L304 384 L265 370 L226 384 L168 352 Z" fill="#2b45f5"/></svg>
<div class="t" style="left:98.28px;top:10.00px;font-size:10.40px;line-height:12px;color:#4da2f6;-webkit-text-stroke:0.2px currentColor;transform:scaleX(0.874);">0:00:00</div>
<div class="t" style="left:226.61px;top:10.08px;font-size:9.00px;line-height:11px;color:#9a44ee;-webkit-text-stroke:0.2px currentColor;transform:scaleX(0.877);">Team trial expires in 13 days.</div>
<div class="t" style="left:347.09px;top:10.08px;font-size:9.00px;line-height:11px;color:#ffffff;font-weight:bold;-webkit-text-stroke:0;transform:scaleX(0.828);">Choose a plan</div>
<div class="t" style="left:87.51px;top:37.22px;font-size:8.60px;line-height:10px;color:#5b6270;-webkit-text-stroke:0.35px currentColor;transform:scaleX(0.868);">RECENT ACTIVITY</div>
<div class="t" style="left:115.00px;top:64.97px;font-size:10.20px;line-height:12px;color:#262b36;-webkit-text-stroke:0.35px currentColor;transform:scaleX(0.925);">Jovana Simić</div>
<div class="t" style="left:468.65px;top:61.67px;font-size:9.60px;line-height:12px;color:#3f9ef2;-webkit-text-stroke:0.2px currentColor;transform:scaleX(0.913);">View all</div>
<div class="t" style="left:555.20px;top:37.12px;font-size:8.60px;line-height:10px;color:#5b6270;-webkit-text-stroke:0.35px currentColor;transform:scaleX(0.883);">INSIGHTS</div>
<div class="t" style="left:559.19px;top:59.81px;font-size:9.20px;line-height:11px;color:#4d5461;-webkit-text-stroke:0.2px currentColor;transform:scaleX(0.961);">Work time classification</div>
<div class="t" style="left:559.21px;top:83.71px;font-size:14.40px;line-height:17px;color:#1b202b;-webkit-text-stroke:0.35px currentColor;transform:scaleX(0.970);">0%</div>
<div class="t" style="left:559.23px;top:102.01px;font-size:9.50px;line-height:11px;color:#4d5461;-webkit-text-stroke:0.2px currentColor;transform:scaleX(0.951);">Core work</div>
<div class="t" style="left:679.84px;top:95.88px;font-size:9.00px;line-height:11px;color:#2f3541;-webkit-text-stroke:0.2px currentColor;transform:scaleX(0.945);">100% Non-core work</div>
<div class="t" style="left:770.21px;top:60.01px;font-size:9.20px;line-height:11px;color:#4d5461;-webkit-text-stroke:0.2px currentColor;transform:scaleX(0.966);">Activity</div>
<div class="t" style="left:769.15px;top:86.30px;font-size:15.00px;line-height:18px;color:#1b202b;-webkit-text-stroke:0.35px currentColor;transform:scaleX(1.008);">81%</div>
<div class="t" style="left:770.21px;top:107.61px;font-size:9.50px;line-height:11px;color:#6b7280;-webkit-text-stroke:0.2px currentColor;transform:scaleX(0.934);">Average</div>
<div class="t" style="left:558.20px;top:156.90px;font-size:9.80px;line-height:12px;color:#6b7280;-webkit-text-stroke:0.2px currentColor;">0%</div>
<div class="t" style="left:601.60px;top:156.90px;font-size:9.80px;line-height:12px;color:#6b7280;-webkit-text-stroke:0.2px currentColor;">25%</div>
<div class="t" style="left:649.60px;top:156.90px;font-size:9.80px;line-height:12px;color:#6b7280;-webkit-text-stroke:0.2px currentColor;">50%</div>
<div class="t" style="left:697.40px;top:156.90px;font-size:9.80px;line-height:12px;color:#6b7280;-webkit-text-stroke:0.2px currentColor;">75%</div>
<div class="t" style="left:739.85px;top:156.90px;font-size:9.80px;line-height:12px;color:#6b7280;-webkit-text-stroke:0.2px currentColor;transform:scaleX(0.953);">100%</div>
<div class="t" style="left:559.18px;top:192.81px;font-size:9.20px;line-height:11px;color:#565d6a;-webkit-text-stroke:0.2px currentColor;transform:scaleX(0.950);">Top core work members</div>
<div class="t" style="left:581.61px;top:218.57px;font-size:10.20px;line-height:12px;color:#2f3541;-webkit-text-stroke:0.2px currentColor;transform:scaleX(0.917);">Jovana Simić</div>
<div class="t" style="left:769.05px;top:192.11px;font-size:9.20px;line-height:11px;color:#565d6a;-webkit-text-stroke:0.2px currentColor;transform:scaleX(0.953);">Low core work members</div>
<div class="t" style="left:854.01px;top:257.90px;font-size:9.80px;line-height:12px;color:#1b202b;-webkit-text-stroke:0.35px currentColor;transform:scaleX(0.959);">No data</div>
<div class="t" style="left:772.64px;top:274.22px;font-size:8.60px;line-height:10px;color:#767c87;-webkit-text-stroke:0.2px currentColor;transform:scaleX(0.923);">There was no data registered in the time period selected</div>
<div class="t" style="left:745.79px;top:326.77px;font-size:9.60px;line-height:12px;color:#3f9ef2;-webkit-text-stroke:0.2px currentColor;transform:scaleX(0.912);">View all</div>
<div class="t" style="left:87.10px;top:217.22px;font-size:8.60px;line-height:10px;color:#5b6270;-webkit-text-stroke:0.35px currentColor;transform:scaleX(0.861);">MEMBERS</div>
<div class="t" style="left:86.01px;top:250.21px;font-size:9.20px;line-height:11px;color:#262b36;-webkit-text-stroke:0.35px currentColor;transform:scaleX(0.992);">Member info</div>
<div class="t" style="left:348.80px;top:250.31px;font-size:9.20px;line-height:11px;color:#262b36;-webkit-text-stroke:0.35px currentColor;transform:scaleX(0.930);">Today</div>
<div class="t" style="left:401.61px;top:250.31px;font-size:9.20px;line-height:11px;color:#262b36;-webkit-text-stroke:0.35px currentColor;transform:scaleX(0.944);">This week</div>
<div class="t" style="left:114.79px;top:277.68px;font-size:9.00px;line-height:11px;color:#262b36;-webkit-text-stroke:0.35px currentColor;transform:scaleX(0.961);">Jovana Simić</div>
<div class="t" style="left:114.78px;top:290.51px;font-size:9.50px;line-height:11px;color:#3a404c;-webkit-text-stroke:0.2px currentColor;transform:scaleX(0.882);">The Business Dive’s Project</div>
<div class="t" style="left:114.80px;top:301.92px;font-size:8.30px;line-height:10px;color:#6b7280;-webkit-text-stroke:0.2px currentColor;transform:scaleX(0.979);">write hubstaff review</div>
<div class="t" style="left:356.30px;top:290.44px;font-size:10.00px;line-height:12px;color:#262b36;-webkit-text-stroke:0.35px currentColor;transform:scaleX(0.885);">0:07</div>
<div class="t" style="left:406.05px;top:290.44px;font-size:10.00px;line-height:12px;color:#262b36;-webkit-text-stroke:0.35px currentColor;transform:scaleX(0.869);">0:07</div>
<div class="t" style="left:87.00px;top:373.52px;font-size:8.60px;line-height:10px;color:#5b6270;-webkit-text-stroke:0.35px currentColor;transform:scaleX(0.846);">TO-DOS</div>
<div class="t" style="left:87.00px;top:406.71px;font-size:9.20px;line-height:11px;color:#262b36;-webkit-text-stroke:0.35px currentColor;transform:scaleX(0.983);">To-do</div>
<div class="t" style="left:398.82px;top:406.81px;font-size:9.20px;line-height:11px;color:#262b36;-webkit-text-stroke:0.35px currentColor;transform:scaleX(0.980);">Time</div>
<div class="t" style="left:112.04px;top:444.91px;font-size:9.50px;line-height:11px;color:#3a404c;-webkit-text-stroke:0.2px currentColor;transform:scaleX(0.920);">write hubstaff review</div>
<div class="t" style="left:397.84px;top:443.87px;font-size:9.60px;line-height:12px;color:#3a404c;-webkit-text-stroke:0.2px currentColor;transform:scaleX(0.911);">0:02:11</div>
<div class="t" style="left:270.00px;top:481.17px;font-size:9.60px;line-height:12px;color:#3f9ef2;-webkit-text-stroke:0.2px currentColor;transform:scaleX(0.906);">View all</div>
<div class="t" style="left:556.22px;top:395.42px;font-size:8.60px;line-height:10px;color:#5b6270;-webkit-text-stroke:0.35px currentColor;transform:scaleX(0.857);">PROJECTS</div>
<div class="t" style="left:555.14px;top:430.11px;font-size:9.20px;line-height:11px;color:#262b36;-webkit-text-stroke:0.35px currentColor;">Project</div>
<div class="t" style="left:867.19px;top:429.81px;font-size:9.20px;line-height:11px;color:#262b36;-webkit-text-stroke:0.35px currentColor;transform:scaleX(0.946);">Time</div>
<div class="t" style="left:581.84px;top:467.31px;font-size:9.50px;line-height:11px;color:#4ea6f4;-webkit-text-stroke:0.2px currentColor;transform:scaleX(0.880);">The Business Dive’s Project</div>
<div class="t" style="left:867.27px;top:466.17px;font-size:9.60px;line-height:12px;color:#3a404c;-webkit-text-stroke:0.2px currentColor;transform:scaleX(0.881);">0:06:45</div>
</body></html>
